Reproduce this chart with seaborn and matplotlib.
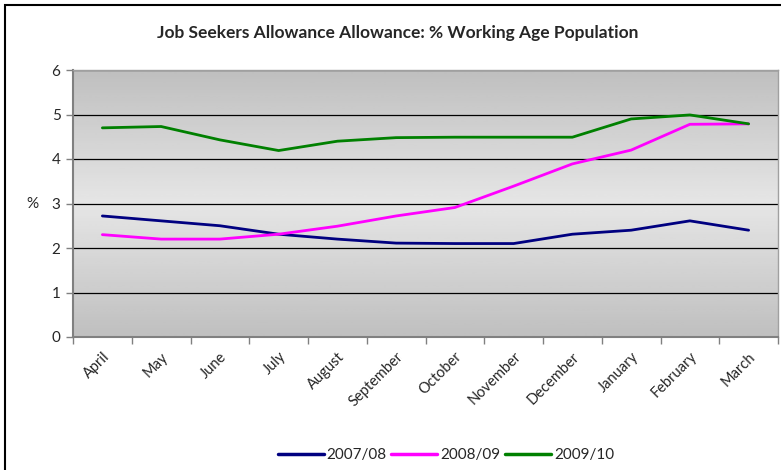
import numpy as np
import pandas as pd
import seaborn as sns
from matplotlib import pyplot as plt
from matplotlib.patches import Rectangle
from matplotlib.transforms import ScaledTranslation

months = ["April", "May", "June", "July", "August", "September", "October",
          "November", "December", "January", "February", "March"]
seasons = ["2007/08", "2008/09", "2009/10"]
jsa_0708 = [2.72, 2.61, 2.50, 2.31, 2.20, 2.11, 2.10, 2.10, 2.31, 2.40, 2.61, 2.40]
jsa_0809 = [2.30, 2.20, 2.20, 2.31, 2.49, 2.72, 2.91, 3.39, 3.89, 4.20, 4.78, 4.79]
jsa_0910 = [4.70, 4.73, 4.43, 4.19, 4.40, 4.48, 4.49, 4.49, 4.49, 4.90, 4.99, 4.79]
colors = ["#000080", "#ff00ff", "#008000"]

sns.set_theme(style="white")
plt.rcParams['font.family'] = ['Lato', 'DejaVu Sans']

df = pd.DataFrame({
    "pos": list(range(len(months))) * 3,
    "value": jsa_0708 + jsa_0809 + jsa_0910,
    "season": [s for s in seasons for _ in months],
})

fig = plt.figure(figsize=(7.81, 4.70), dpi=100)
ax = fig.add_axes([73 / 781, 1 - 337 / 470, 705 / 781, 267 / 470])

# grey gradient of the plot area
grad = np.concatenate([np.linspace(0.75, 0.90, 50), np.linspace(0.90, 0.75, 50)])
ax.imshow(grad.reshape(-1, 1), cmap="gray", vmin=0, vmax=1, aspect="auto",
          extent=[-0.5, 11.5, 0, 6], zorder=0, interpolation="bilinear")

sns.lineplot(data=df, x="pos", y="value", hue="season", palette=colors,
             linewidth=2, ax=ax, legend=False, zorder=3)

ax.set_xlim(-0.5, 11.5)
ax.set_ylim(0, 6)
ax.set_yticks(range(0, 7))
ax.yaxis.grid(True, color="black", linewidth=0.9)
ax.set_xticks(range(len(months)))
ax.set_xticklabels(months, rotation=45, ha="right", rotation_mode="anchor", fontsize=10.5)
shift = ScaledTranslation(-8 / 100, 0, fig.dpi_scale_trans)
for lbl in ax.get_xticklabels():
    lbl.set_transform(lbl.get_transform() + shift)
ax.set_xticks(np.arange(-0.5, 12, 1), minor=True)
ax.tick_params(axis="x", which="major", length=0, pad=9)
ax.tick_params(axis="x", which="minor", length=5, width=1, color="#808080", bottom=True)
ax.tick_params(axis="y", length=5, width=1, color="#808080", left=True, labelsize=11, pad=4)
ax.set_xlabel("")
ax.set_ylabel("%", rotation=0, fontsize=11, labelpad=14, va="center")
for side in ["left", "bottom"]:
    ax.spines[side].set_color("#808080")
    ax.spines[side].set_linewidth(1.5)
for side in ["top", "right"]:
    ax.spines[side].set_color("#a0a0a0")
    ax.spines[side].set_linewidth(1)

fig.text(398 / 781, 1 - 33 / 470, "Job Seekers Allowance Allowance: % Working Age Population",
         ha="center", va="center", fontsize=12.5, fontweight="bold")

handles = [plt.Line2D([], [], color=c, linewidth=2.5) for c in colors]
fig.legend(handles, seasons, loc="center", bbox_to_anchor=(446 / 781, 1 - 455 / 470),
           ncol=3, frameon=False, fontsize=11, handlelength=3, handletextpad=0.2,
           columnspacing=0.3)

fig.patches.append(Rectangle((5 / 781, -0.1), 1.1, 1 - 5 / 470 + 0.1,
                             transform=fig.transFigure, fill=False,
                             edgecolor="black", linewidth=1.5))

fig.savefig("out.png", dpi=100)
